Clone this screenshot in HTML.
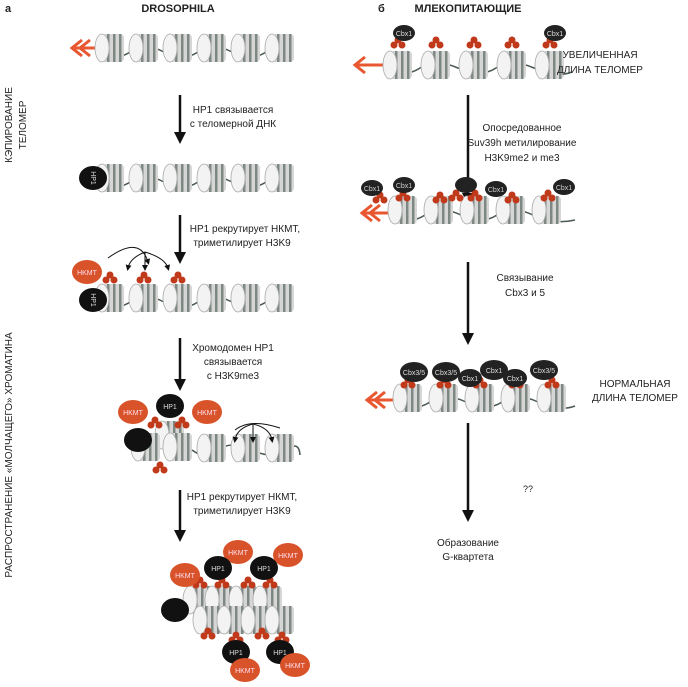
<!DOCTYPE html>
<html><head><meta charset="utf-8"><style>
html,body{margin:0;padding:0;background:#fff}
svg{display:block}
text{font-family:"Liberation Sans",sans-serif}
</style></head><body>
<svg width="688" height="687" viewBox="0 0 688 687" xmlns="http://www.w3.org/2000/svg" fill="#222">
<defs>
<g id="n">
<rect x="-10" y="-14" width="22" height="28" rx="4" fill="#d6d6d6"/>
<rect x="-5" y="-14" width="2.5" height="28" fill="#7d8882"/>
<rect x="1" y="-14" width="2.5" height="28" fill="#7d8882"/>
<rect x="7" y="-14" width="2.5" height="28" fill="#7d8882"/>
<ellipse cx="-10" cy="0" rx="7" ry="14" fill="#f3f3f3" stroke="#aaa" stroke-width="0.8"/>
</g>
<g id="m"><circle cx="-4" cy="0" r="3.5" fill="#c0391b"/><circle cx="4" cy="0" r="3.5" fill="#c0391b"/><circle cx="0" cy="-5" r="3.5" fill="#c0391b"/></g>
<g id="hp"><ellipse cx="0" cy="0" rx="14" ry="12" fill="#111"/></g>
<g id="hk"><ellipse cx="0" cy="0" rx="15" ry="12" fill="#d9532a"/></g>
<marker id="ah" markerUnits="userSpaceOnUse" markerWidth="12" markerHeight="14" refX="6" refY="7" orient="auto"><path d="M0,1 L12,7 L0,13 z" fill="#111"/></marker>
<marker id="as" markerUnits="userSpaceOnUse" markerWidth="6" markerHeight="6" refX="3" refY="3" orient="auto"><path d="M0,0 L6,3 L0,6 z" fill="#111"/></marker>
</defs>

<text x="5" y="12" font-size="11" font-weight="bold">а</text>
<text x="178" y="12" font-size="11" font-weight="bold" text-anchor="middle">DROSOPHILA</text>
<text x="378" y="12" font-size="11" font-weight="bold">б</text>
<text x="468" y="12" font-size="11" font-weight="bold" text-anchor="middle">МЛЕКОПИТАЮЩИЕ</text>

<text transform="translate(12,125) rotate(-90)" font-size="10" text-anchor="middle">КЭПИРОВАНИЕ</text>
<text transform="translate(26,125) rotate(-90)" font-size="10" text-anchor="middle">ТЕЛОМЕР</text>
<text transform="translate(12,455) rotate(-90)" font-size="10" text-anchor="middle">РАСПРОСТРАНЕНИЕ «МОЛЧАЩЕГО» ХРОМАТИНА</text>

<!-- Left row1 -->
<path d="M95,48 H72 M82,40 L72,48 L82,56 M90,40 L80,48 L90,56" stroke="#e8572f" stroke-width="3" fill="none"/>
<path d="M100,52 Q115,62 130,52 T164,52 T198,52 T232,52 T266,52 T292,58" stroke="#4a5a50" stroke-width="1.5" fill="none"/>
<use href="#n" x="112" y="48"/><use href="#n" x="146" y="48"/><use href="#n" x="180" y="48"/><use href="#n" x="214" y="48"/><use href="#n" x="248" y="48"/><use href="#n" x="282" y="48"/>

<line x1="180" y1="95" x2="180" y2="138" stroke="#111" stroke-width="2.5" marker-end="url(#ah)"/>
<text x="233" y="113" font-size="10" text-anchor="middle">HP1 связывается</text>
<text x="233" y="127" font-size="10" text-anchor="middle">с теломерной ДНК</text>

<!-- row2 -->
<path d="M100,182 Q115,192 130,182 T164,182 T198,182 T232,182 T266,182 T292,188" stroke="#4a5a50" stroke-width="1.5" fill="none"/>
<use href="#n" x="112" y="178"/><use href="#n" x="146" y="178"/><use href="#n" x="180" y="178"/><use href="#n" x="214" y="178"/><use href="#n" x="248" y="178"/><use href="#n" x="282" y="178"/>
<use href="#hp" x="93" y="178"/>
<text transform="translate(91,178) rotate(90)" font-size="7" text-anchor="middle" style="fill:#ddd">HP1</text>

<line x1="180" y1="215" x2="180" y2="258" stroke="#111" stroke-width="2.5" marker-end="url(#ah)"/>
<text x="245" y="232" font-size="10" text-anchor="middle">HP1 рекрутирует НКМТ,</text>
<text x="242" y="246" font-size="10" text-anchor="middle">триметилирует H3K9</text>

<!-- row3 -->
<path d="M100,302 Q115,312 130,302 T164,302 T198,302 T232,302 T266,302 T292,308" stroke="#4a5a50" stroke-width="1.5" fill="none"/>
<use href="#n" x="112" y="298"/><use href="#n" x="146" y="298"/><use href="#n" x="180" y="298"/><use href="#n" x="214" y="298"/><use href="#n" x="248" y="298"/><use href="#n" x="282" y="298"/>
<use href="#m" x="110" y="280"/><use href="#m" x="144" y="280"/><use href="#m" x="178" y="280"/>
<use href="#hk" x="87" y="272"/><use href="#hp" x="93" y="300"/>
<text x="87" y="275" font-size="7" text-anchor="middle" style="fill:#fde">HKMT</text>
<text transform="translate(91,300) rotate(90)" font-size="7" text-anchor="middle" style="fill:#ddd">HP1</text>
<path d="M108,258 Q140,235 148,262" stroke="#111" fill="none" marker-end="url(#as)"/>
<path d="M145,252 Q130,258 128,268" stroke="#111" fill="none" marker-end="url(#as)"/>
<path d="M145,252 V268" stroke="#111" fill="none" marker-end="url(#as)"/>
<path d="M145,252 Q165,258 168,268" stroke="#111" fill="none" marker-end="url(#as)"/>

<line x1="180" y1="338" x2="180" y2="385" stroke="#111" stroke-width="2.5" marker-end="url(#ah)"/>
<text x="233" y="351" font-size="10" text-anchor="middle">Хромодомен HP1</text>
<text x="233" y="365" font-size="10" text-anchor="middle">связывается</text>
<text x="233" y="379" font-size="10" text-anchor="middle">с H3K9me3</text>

<!-- row4 -->
<use href="#n" x="172" y="435"/><use href="#n" x="148" y="447"/><use href="#n" x="180" y="447"/>
<path d="M192,450 Q205,460 218,450 T252,450 T286,450 T300,455" stroke="#4a5a50" stroke-width="1.5" fill="none"/>
<use href="#n" x="214" y="448"/><use href="#n" x="248" y="448"/><use href="#n" x="282" y="448"/>
<use href="#m" x="155" y="425"/><use href="#m" x="182" y="425"/><use href="#m" x="160" y="470"/>
<use href="#hk" x="133" y="412"/><use href="#hp" x="170" y="406"/><use href="#hk" x="207" y="412"/>
<use href="#hp" x="138" y="440"/>
<g font-size="7" text-anchor="middle"><text x="133" y="415" style="fill:#fde">HKMT</text><text x="170" y="409" style="fill:#ddd">HP1</text><text x="207" y="415" style="fill:#fde">HKMT</text></g>
<path d="M235,430 Q250,418 280,428" stroke="#111" fill="none"/>
<path d="M253,424 Q237,428 235,440" stroke="#111" fill="none" marker-end="url(#as)"/>
<path d="M253,424 V440" stroke="#111" fill="none" marker-end="url(#as)"/>
<path d="M253,424 Q270,428 272,440" stroke="#111" fill="none" marker-end="url(#as)"/>

<line x1="180" y1="490" x2="180" y2="536" stroke="#111" stroke-width="2.5" marker-end="url(#ah)"/>
<text x="242" y="500" font-size="10" text-anchor="middle">HP1 рекрутирует НКМТ,</text>
<text x="242" y="514" font-size="10" text-anchor="middle">триметилирует H3K9</text>

<!-- row5 -->
<use href="#n" x="200" y="600"/><use href="#n" x="222" y="600"/><use href="#n" x="246" y="600"/><use href="#n" x="270" y="600"/>
<use href="#n" x="210" y="620"/><use href="#n" x="234" y="620"/><use href="#n" x="258" y="620"/><use href="#n" x="282" y="620"/>
<use href="#m" x="200" y="585"/><use href="#m" x="222" y="585"/><use href="#m" x="248" y="585"/><use href="#m" x="270" y="585"/>
<use href="#m" x="208" y="636"/><use href="#m" x="236" y="640"/><use href="#m" x="262" y="636"/><use href="#m" x="282" y="640"/>
<use href="#hk" x="185" y="575"/><use href="#hk" x="238" y="552"/><use href="#hk" x="288" y="555"/>
<use href="#hp" x="218" y="568"/><use href="#hp" x="264" y="568"/>
<use href="#hp" x="175" y="610"/>
<use href="#hp" x="236" y="652"/><use href="#hp" x="280" y="652"/>
<use href="#hk" x="245" y="670"/><use href="#hk" x="295" y="665"/>
<g font-size="7" text-anchor="middle"><text x="238" y="555" style="fill:#fde">HKMT</text><text x="288" y="558" style="fill:#fde">HKMT</text><text x="185" y="578" style="fill:#fde">HKMT</text><text x="218" y="571" style="fill:#ddd">HP1</text><text x="264" y="571" style="fill:#ddd">HP1</text><text x="236" y="655" style="fill:#ddd">HP1</text><text x="280" y="655" style="fill:#ddd">HP1</text><text x="245" y="673" style="fill:#fde">HKMT</text><text x="295" y="668" style="fill:#fde">HKMT</text></g>

<!-- Right row1 -->
<path d="M385,65 H355 M365,57 L355,65 L365,73" stroke="#e8572f" stroke-width="3" fill="none"/>
<path d="M390,68 Q405,78 420,68 T458,68 T496,68 T534,68 T572,72" stroke="#4a5a50" stroke-width="1.5" fill="none"/>
<use href="#n" x="400" y="65"/><use href="#n" x="438" y="65"/><use href="#n" x="476" y="65"/><use href="#n" x="514" y="65"/><use href="#n" x="552" y="65"/>
<use href="#m" x="398" y="45"/><use href="#m" x="436" y="45"/><use href="#m" x="474" y="45"/><use href="#m" x="512" y="45"/><use href="#m" x="550" y="45"/>
<ellipse cx="404" cy="33" rx="11" ry="8" fill="#222"/><ellipse cx="555" cy="33" rx="11" ry="8" fill="#222"/>
<text x="404" y="36" font-size="7" text-anchor="middle" style="fill:#ddd">Cbx1</text><text x="555" y="36" font-size="7" text-anchor="middle" style="fill:#ddd">Cbx1</text>
<text x="600" y="58" font-size="10" text-anchor="middle">УВЕЛИЧЕННАЯ</text>
<text x="600" y="73" font-size="10" text-anchor="middle">ДЛИНА ТЕЛОМЕР</text>

<line x1="468" y1="95" x2="468" y2="199" stroke="#111" stroke-width="2.5" marker-end="url(#ah)"/>
<text x="522" y="131" font-size="10" text-anchor="middle">Опосредованное</text>
<text x="522" y="146" font-size="10" text-anchor="middle">Suv39h метилирование</text>
<text x="522" y="161" font-size="10" text-anchor="middle">H3K9me2 и me3</text>

<!-- row2 -->
<path d="M390,213 H362 M372,205 L362,213 L372,221 M380,205 L370,213 L380,221" stroke="#e8572f" stroke-width="3" fill="none"/>
<path d="M395,215 Q410,225 425,215 T461,215 T497,215 T533,215 T575,220" stroke="#4a5a50" stroke-width="1.5" fill="none"/>
<use href="#n" x="405" y="210"/><use href="#n" x="441" y="210"/><use href="#n" x="477" y="210"/><use href="#n" x="513" y="210"/><use href="#n" x="549" y="210"/>
<use href="#m" x="380" y="200"/><use href="#m" x="403" y="198"/><use href="#m" x="440" y="200"/><use href="#m" x="475" y="198"/><use href="#m" x="512" y="200"/><use href="#m" x="548" y="198"/><use href="#m" x="456" y="198"/>
<ellipse cx="372" cy="188" rx="11" ry="8" fill="#222"/><ellipse cx="404" cy="185" rx="11" ry="8" fill="#222"/><ellipse cx="466" cy="185" rx="11" ry="8" fill="#222"/><ellipse cx="496" cy="189" rx="11" ry="8" fill="#222"/><ellipse cx="564" cy="187" rx="11" ry="8" fill="#222"/>
<g font-size="7" text-anchor="middle"><text x="372" y="191" style="fill:#ccc">Cbx1</text><text x="404" y="188" style="fill:#ccc">Cbx1</text><text x="496" y="192" style="fill:#ccc">Cbx1</text><text x="564" y="190" style="fill:#ccc">Cbx1</text></g>

<line x1="468" y1="262" x2="468" y2="339" stroke="#111" stroke-width="2.5" marker-end="url(#ah)"/>
<text x="525" y="281" font-size="10" text-anchor="middle">Связывание</text>
<text x="525" y="296" font-size="10" text-anchor="middle">Cbx3 и 5</text>

<!-- row3 -->
<path d="M395,400 H367 M377,392 L367,400 L377,408 M385,392 L375,400 L385,408" stroke="#e8572f" stroke-width="3" fill="none"/>
<path d="M400,402 Q415,412 430,402 T466,402 T502,402 T538,402 T575,406" stroke="#4a5a50" stroke-width="1.5" fill="none"/>
<use href="#n" x="410" y="398"/><use href="#n" x="446" y="398"/><use href="#n" x="482" y="398"/><use href="#n" x="518" y="398"/><use href="#n" x="554" y="398"/>
<use href="#m" x="408" y="385"/><use href="#m" x="444" y="385"/><use href="#m" x="480" y="385"/><use href="#m" x="516" y="385"/><use href="#m" x="552" y="385"/>
<ellipse cx="414" cy="372" rx="14" ry="10" fill="#222"/><ellipse cx="446" cy="372" rx="14" ry="10" fill="#222"/><ellipse cx="470" cy="378" rx="12" ry="9" fill="#222"/><ellipse cx="494" cy="370" rx="14" ry="10" fill="#222"/><ellipse cx="515" cy="378" rx="12" ry="9" fill="#222"/><ellipse cx="544" cy="370" rx="14" ry="10" fill="#222"/>
<g font-size="7" text-anchor="middle"><text x="414" y="375" style="fill:#ddd">Cbx3/5</text><text x="446" y="375" style="fill:#ddd">Cbx3/5</text><text x="470" y="381" style="fill:#ddd">Cbx1</text><text x="494" y="373" style="fill:#ddd">Cbx1</text><text x="515" y="381" style="fill:#ddd">Cbx1</text><text x="544" y="373" style="fill:#ddd">Cbx3/5</text></g>
<text x="635" y="387" font-size="10" text-anchor="middle">НОРМАЛЬНАЯ</text>
<text x="635" y="401" font-size="10" text-anchor="middle">ДЛИНА ТЕЛОМЕР</text>

<line x1="468" y1="423" x2="468" y2="516" stroke="#111" stroke-width="2.5" marker-end="url(#ah)"/>
<text x="528" y="492" font-size="9" text-anchor="middle">??</text>
<text x="468" y="546" font-size="10" text-anchor="middle">Образование</text>
<text x="468" y="560" font-size="10" text-anchor="middle">G-квартета</text>
</svg>
</body></html>
